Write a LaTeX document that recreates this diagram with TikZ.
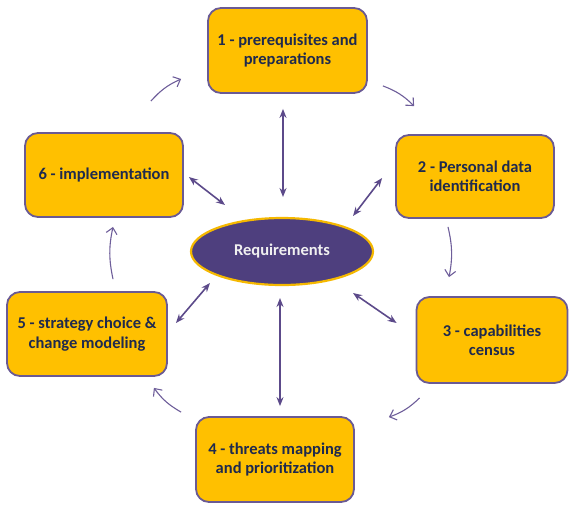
\documentclass[tikz,border=0pt]{standalone}
\usepackage{fontspec}
\setmainfont{Carlito}
\usetikzlibrary{arrows.meta,shapes.geometric}
\definecolor{boxfill}{HTML}{FFC000}
\definecolor{boxline}{HTML}{6A5A94}
\definecolor{txt}{HTML}{1F2A4E}
\definecolor{reqfill}{HTML}{4E3F7E}
\definecolor{reqline}{HTML}{F5B800}
\definecolor{arr}{HTML}{5C4A8A}
\definecolor{carr}{HTML}{6E5E9A}
\tikzset{
  stepbox/.style={draw=boxline, line width=1.8pt, fill=boxfill, rounded corners=13pt,
    inner sep=0pt, align=center, text=txt,
    font=\fontsize{16.5}{19.5}\selectfont\bfseries},
  reqnode/.style={ellipse, draw=reqline, line width=2.2pt, fill=reqfill, inner sep=0pt,
    minimum width=182pt, minimum height=67pt, text=white!94!black,
    font=\fontsize{16.5}{19.5}\selectfont\bfseries},
  dbl/.style={draw=arr, line width=1.6pt, {Stealth[length=9pt,width=7pt]}-{Stealth[length=9pt,width=7pt]}},
  cyc/.style={draw=carr, line width=1.1pt, -{Straight Barb[length=6pt,width=11pt]}, bend left=12}
}
\begin{document}
\begin{tikzpicture}[x=1pt,y=-1pt]
\useasboundingbox (0,0) rectangle (569,504);
\node[stepbox, minimum width=159pt, minimum height=85pt] (b1) at (287.5,50.5) {1 - prerequisites and\\preparations};
\node[stepbox, minimum width=158pt, minimum height=83pt] (b2) at (475,176.5) {2 - Personal data\\identification};
\node[stepbox, minimum width=151pt, minimum height=86pt] (b3) at (492,340) {3 - capabilities\\census};
\node[stepbox, minimum width=158pt, minimum height=85pt] (b4) at (275,459.5) {4 - threats mapping\\and prioritization};
\node[stepbox, minimum width=160pt, minimum height=84pt] (b5) at (87,334) {5 - strategy choice \&\\change modeling};
\node[stepbox, minimum width=158pt, minimum height=84pt] (b6) at (104,175) {6 - implementation};
\node[reqnode] (req) at (282,251.5) {Requirements};

% cycle arrows
\draw[cyc] ([shift={(15,-8)}]b1.south east) to ([shift={(19,-28)}]b2.north west);
\draw[cyc] ([shift={(-27,8)}]b2.south) to ([shift={(-43,-19)}]b3.north);
\draw[cyc] ([shift={(4,14)}]b3.south west) to ([shift={(34,1)}]b4.north east);
\draw[cyc] ([shift={(-14,-4)}]b4.north west) to ([shift={(-14,11)}]b5.south east);
\draw[cyc] ([shift={(26,-12)}]b5.north) to ([shift={(9,9)}]b6.south);
\draw[cyc] ([shift={(-33,-31)}]b6.north east) to ([shift={(-26,28.5)}]b1.west);

% double arrows
\draw[dbl] ([shift={(-4.5,15)}]b1.south) -- ([shift={(1,-54.5)}]req.center);
\draw[dbl] ([shift={(-13,1.5)}]b2.west) -- ([shift={(71,-35.5)}]req.center);
\draw[dbl] ([shift={(71,41.5)}]req.center) -- ([shift={(-19,-17)}]b3.west);
\draw[dbl] ([shift={(-2,46.5)}]req.center) -- ([shift={(5,-10)}]b4.north);
\draw[dbl] ([shift={(-72,31.5)}]req.center) -- ([shift={(8,-11)}]b5.east);
\draw[dbl] ([shift={(5,2)}]b6.east) -- ([shift={(-57,-46.5)}]req.center);
\end{tikzpicture}
\end{document}
